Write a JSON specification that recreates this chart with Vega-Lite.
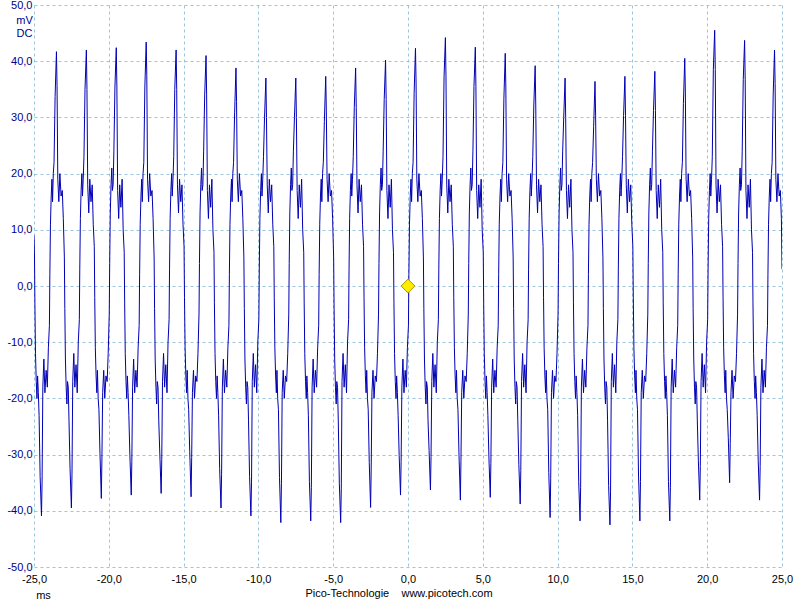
{
"$schema": "https://vega.github.io/schema/vega-lite/v6.json",
"width": 748, "height": 562,
"autosize": {"type": "none"},
"padding": {"left": 34, "top": 5, "right": 18, "bottom": 33},
"background": "white",
"config": {"view": {"stroke": null}, "font": "Liberation Sans"},
"title": {"text": "Pico-Technologie\u00a0\u00a0\u00a0\u00a0www.picotech.com", "orient": "bottom", "anchor": "middle", "frame": "group", "fontSize": 11, "fontWeight": "normal", "color": "black", "font": "Liberation Sans", "offset": 0, "dx": -9, "dy": -12},
"layer": [
{
"data": {"values": [
{"ms":-25,"mV":9},
{"ms":-24.97,"mV":6},{"ms":-24.94,"mV":-3},{"ms":-24.9,"mV":-12},{"ms":-24.85,"mV":-17},{"ms":-24.8,"mV":-20},{"ms":-24.76,"mV":-16},{"ms":-24.71,"mV":-19},{"ms":-24.66,"mV":-23},{"ms":-24.59,"mV":-33.9},{"ms":-24.5,"mV":-40.9},{"ms":-24.46,"mV":-34.9},{"ms":-24.41,"mV":-18},{"ms":-24.34,"mV":-13},{"ms":-24.27,"mV":-19},{"ms":-24.19,"mV":-15},{"ms":-24.11,"mV":-18},{"ms":-24.04,"mV":-11},
{"ms":-23.97,"mV":-7},{"ms":-23.94,"mV":2},{"ms":-23.9,"mV":11},{"ms":-23.85,"mV":16},{"ms":-23.8,"mV":19},{"ms":-23.76,"mV":15},{"ms":-23.71,"mV":20},{"ms":-23.66,"mV":22},{"ms":-23.59,"mV":33.7},{"ms":-23.5,"mV":41.7},{"ms":-23.46,"mV":35.7},{"ms":-23.41,"mV":19},{"ms":-23.34,"mV":15},{"ms":-23.27,"mV":20},{"ms":-23.19,"mV":16},{"ms":-23.11,"mV":17},{"ms":-23.04,"mV":12},
{"ms":-22.97,"mV":5},{"ms":-22.94,"mV":-4},{"ms":-22.9,"mV":-13},{"ms":-22.85,"mV":-18},{"ms":-22.8,"mV":-21},{"ms":-22.76,"mV":-17},{"ms":-22.71,"mV":-18},{"ms":-22.66,"mV":-24},{"ms":-22.59,"mV":-32.5},{"ms":-22.5,"mV":-39.5},{"ms":-22.46,"mV":-33.5},{"ms":-22.41,"mV":-17},{"ms":-22.34,"mV":-12},{"ms":-22.27,"mV":-18},{"ms":-22.19,"mV":-14},{"ms":-22.11,"mV":-19},{"ms":-22.04,"mV":-10},
{"ms":-21.97,"mV":-6},{"ms":-21.94,"mV":3},{"ms":-21.9,"mV":12},{"ms":-21.85,"mV":17},{"ms":-21.8,"mV":20},{"ms":-21.76,"mV":16},{"ms":-21.71,"mV":19},{"ms":-21.66,"mV":23},{"ms":-21.59,"mV":35},{"ms":-21.5,"mV":42},{"ms":-21.46,"mV":35},{"ms":-21.41,"mV":18},{"ms":-21.34,"mV":13},{"ms":-21.27,"mV":19},{"ms":-21.19,"mV":15},{"ms":-21.11,"mV":18},{"ms":-21.04,"mV":11},
{"ms":-20.97,"mV":7},{"ms":-20.94,"mV":-2},{"ms":-20.9,"mV":-11},{"ms":-20.85,"mV":-16},{"ms":-20.8,"mV":-19},{"ms":-20.76,"mV":-15},{"ms":-20.71,"mV":-20},{"ms":-20.66,"mV":-22},{"ms":-20.59,"mV":-29.8},{"ms":-20.5,"mV":-37.8},{"ms":-20.46,"mV":-30.8},{"ms":-20.41,"mV":-19},{"ms":-20.34,"mV":-15},{"ms":-20.27,"mV":-20},{"ms":-20.19,"mV":-16},{"ms":-20.11,"mV":-17},{"ms":-20.04,"mV":-12},
{"ms":-19.97,"mV":-5},{"ms":-19.94,"mV":4},{"ms":-19.9,"mV":13},{"ms":-19.85,"mV":18},{"ms":-19.8,"mV":21},{"ms":-19.76,"mV":17},{"ms":-19.71,"mV":18},{"ms":-19.66,"mV":24},{"ms":-19.59,"mV":35.4},{"ms":-19.5,"mV":42.4},{"ms":-19.46,"mV":35.4},{"ms":-19.41,"mV":17},{"ms":-19.34,"mV":12},{"ms":-19.27,"mV":18},{"ms":-19.19,"mV":14},{"ms":-19.11,"mV":19},{"ms":-19.04,"mV":10},
{"ms":-18.97,"mV":6},{"ms":-18.94,"mV":-3},{"ms":-18.9,"mV":-12},{"ms":-18.85,"mV":-17},{"ms":-18.8,"mV":-20},{"ms":-18.76,"mV":-16},{"ms":-18.71,"mV":-19},{"ms":-18.66,"mV":-23},{"ms":-18.59,"mV":-30.2},{"ms":-18.5,"mV":-37.2},{"ms":-18.46,"mV":-31.2},{"ms":-18.41,"mV":-18},{"ms":-18.34,"mV":-13},{"ms":-18.27,"mV":-19},{"ms":-18.19,"mV":-15},{"ms":-18.11,"mV":-18},{"ms":-18.04,"mV":-11},
{"ms":-17.97,"mV":-7},{"ms":-17.94,"mV":2},{"ms":-17.9,"mV":11},{"ms":-17.85,"mV":16},{"ms":-17.8,"mV":19},{"ms":-17.76,"mV":15},{"ms":-17.71,"mV":20},{"ms":-17.66,"mV":22},{"ms":-17.59,"mV":35.4},{"ms":-17.5,"mV":43.4},{"ms":-17.46,"mV":37.4},{"ms":-17.41,"mV":19},{"ms":-17.34,"mV":15},{"ms":-17.27,"mV":20},{"ms":-17.19,"mV":16},{"ms":-17.11,"mV":17},{"ms":-17.04,"mV":12},
{"ms":-16.97,"mV":5},{"ms":-16.94,"mV":-4},{"ms":-16.9,"mV":-13},{"ms":-16.85,"mV":-18},{"ms":-16.8,"mV":-21},{"ms":-16.76,"mV":-17},{"ms":-16.71,"mV":-18},{"ms":-16.66,"mV":-24},{"ms":-16.59,"mV":-29.9},{"ms":-16.5,"mV":-36.9},{"ms":-16.46,"mV":-30.9},{"ms":-16.41,"mV":-17},{"ms":-16.34,"mV":-12},{"ms":-16.27,"mV":-18},{"ms":-16.19,"mV":-14},{"ms":-16.11,"mV":-19},{"ms":-16.04,"mV":-10},
{"ms":-15.97,"mV":-6},{"ms":-15.94,"mV":3},{"ms":-15.9,"mV":12},{"ms":-15.85,"mV":17},{"ms":-15.8,"mV":20},{"ms":-15.76,"mV":16},{"ms":-15.71,"mV":19},{"ms":-15.66,"mV":23},{"ms":-15.59,"mV":35},{"ms":-15.5,"mV":42},{"ms":-15.46,"mV":35},{"ms":-15.41,"mV":18},{"ms":-15.34,"mV":13},{"ms":-15.27,"mV":19},{"ms":-15.19,"mV":15},{"ms":-15.11,"mV":18},{"ms":-15.04,"mV":11},
{"ms":-14.97,"mV":7},{"ms":-14.94,"mV":-2},{"ms":-14.9,"mV":-11},{"ms":-14.85,"mV":-16},{"ms":-14.8,"mV":-19},{"ms":-14.76,"mV":-15},{"ms":-14.71,"mV":-20},{"ms":-14.66,"mV":-22},{"ms":-14.59,"mV":-29.5},{"ms":-14.5,"mV":-37.5},{"ms":-14.46,"mV":-30.5},{"ms":-14.41,"mV":-19},{"ms":-14.34,"mV":-15},{"ms":-14.27,"mV":-20},{"ms":-14.19,"mV":-16},{"ms":-14.11,"mV":-17},{"ms":-14.04,"mV":-12},
{"ms":-13.97,"mV":-5},{"ms":-13.94,"mV":4},{"ms":-13.9,"mV":13},{"ms":-13.85,"mV":18},{"ms":-13.8,"mV":21},{"ms":-13.76,"mV":17},{"ms":-13.71,"mV":18},{"ms":-13.66,"mV":24},{"ms":-13.59,"mV":34},{"ms":-13.5,"mV":41},{"ms":-13.46,"mV":34},{"ms":-13.41,"mV":17},{"ms":-13.34,"mV":12},{"ms":-13.27,"mV":18},{"ms":-13.19,"mV":14},{"ms":-13.11,"mV":19},{"ms":-13.04,"mV":10},
{"ms":-12.97,"mV":6},{"ms":-12.94,"mV":-3},{"ms":-12.9,"mV":-12},{"ms":-12.85,"mV":-17},{"ms":-12.8,"mV":-20},{"ms":-12.76,"mV":-16},{"ms":-12.71,"mV":-19},{"ms":-12.66,"mV":-23},{"ms":-12.59,"mV":-32.5},{"ms":-12.5,"mV":-39.5},{"ms":-12.46,"mV":-33.5},{"ms":-12.41,"mV":-18},{"ms":-12.34,"mV":-13},{"ms":-12.27,"mV":-19},{"ms":-12.19,"mV":-15},{"ms":-12.11,"mV":-18},{"ms":-12.04,"mV":-11},
{"ms":-11.97,"mV":-7},{"ms":-11.94,"mV":2},{"ms":-11.9,"mV":11},{"ms":-11.85,"mV":16},{"ms":-11.8,"mV":19},{"ms":-11.76,"mV":15},{"ms":-11.71,"mV":20},{"ms":-11.66,"mV":22},{"ms":-11.59,"mV":30.8},{"ms":-11.5,"mV":38.8},{"ms":-11.46,"mV":32.8},{"ms":-11.41,"mV":19},{"ms":-11.34,"mV":15},{"ms":-11.27,"mV":20},{"ms":-11.19,"mV":16},{"ms":-11.11,"mV":17},{"ms":-11.04,"mV":12},
{"ms":-10.97,"mV":5},{"ms":-10.94,"mV":-4},{"ms":-10.9,"mV":-13},{"ms":-10.85,"mV":-18},{"ms":-10.8,"mV":-21},{"ms":-10.76,"mV":-17},{"ms":-10.71,"mV":-18},{"ms":-10.66,"mV":-24},{"ms":-10.59,"mV":-33.9},{"ms":-10.5,"mV":-40.9},{"ms":-10.46,"mV":-34.9},{"ms":-10.41,"mV":-17},{"ms":-10.34,"mV":-12},{"ms":-10.27,"mV":-18},{"ms":-10.19,"mV":-14},{"ms":-10.11,"mV":-19},{"ms":-10.04,"mV":-10},
{"ms":-9.97,"mV":-6},{"ms":-9.94,"mV":3},{"ms":-9.9,"mV":12},{"ms":-9.85,"mV":17},{"ms":-9.8,"mV":20},{"ms":-9.76,"mV":16},{"ms":-9.71,"mV":19},{"ms":-9.66,"mV":23},{"ms":-9.59,"mV":30},{"ms":-9.5,"mV":37},{"ms":-9.46,"mV":30},{"ms":-9.41,"mV":18},{"ms":-9.34,"mV":13},{"ms":-9.27,"mV":19},{"ms":-9.19,"mV":15},{"ms":-9.11,"mV":18},{"ms":-9.04,"mV":11},
{"ms":-8.97,"mV":7},{"ms":-8.94,"mV":-2},{"ms":-8.9,"mV":-11},{"ms":-8.85,"mV":-16},{"ms":-8.8,"mV":-19},{"ms":-8.76,"mV":-15},{"ms":-8.71,"mV":-20},{"ms":-8.66,"mV":-22},{"ms":-8.59,"mV":-34.1},{"ms":-8.5,"mV":-42.1},{"ms":-8.46,"mV":-35.1},{"ms":-8.41,"mV":-19},{"ms":-8.34,"mV":-15},{"ms":-8.27,"mV":-20},{"ms":-8.19,"mV":-16},{"ms":-8.11,"mV":-17},{"ms":-8.04,"mV":-12},
{"ms":-7.97,"mV":-5},{"ms":-7.94,"mV":4},{"ms":-7.9,"mV":13},{"ms":-7.85,"mV":18},{"ms":-7.8,"mV":21},{"ms":-7.76,"mV":17},{"ms":-7.71,"mV":18},{"ms":-7.66,"mV":24},{"ms":-7.59,"mV":30},{"ms":-7.5,"mV":37},{"ms":-7.46,"mV":30},{"ms":-7.41,"mV":17},{"ms":-7.34,"mV":12},{"ms":-7.27,"mV":18},{"ms":-7.19,"mV":14},{"ms":-7.11,"mV":19},{"ms":-7.04,"mV":10},
{"ms":-6.97,"mV":6},{"ms":-6.94,"mV":-3},{"ms":-6.9,"mV":-12},{"ms":-6.85,"mV":-17},{"ms":-6.8,"mV":-20},{"ms":-6.76,"mV":-16},{"ms":-6.71,"mV":-19},{"ms":-6.66,"mV":-23},{"ms":-6.59,"mV":-34.8},{"ms":-6.5,"mV":-41.8},{"ms":-6.46,"mV":-35.8},{"ms":-6.41,"mV":-18},{"ms":-6.34,"mV":-13},{"ms":-6.27,"mV":-19},{"ms":-6.19,"mV":-15},{"ms":-6.11,"mV":-18},{"ms":-6.04,"mV":-11},
{"ms":-5.97,"mV":-7},{"ms":-5.94,"mV":2},{"ms":-5.9,"mV":11},{"ms":-5.85,"mV":16},{"ms":-5.8,"mV":19},{"ms":-5.76,"mV":15},{"ms":-5.71,"mV":20},{"ms":-5.66,"mV":22},{"ms":-5.59,"mV":29.3},{"ms":-5.5,"mV":37.3},{"ms":-5.46,"mV":31.3},{"ms":-5.41,"mV":19},{"ms":-5.34,"mV":15},{"ms":-5.27,"mV":20},{"ms":-5.19,"mV":16},{"ms":-5.11,"mV":17},{"ms":-5.04,"mV":12},
{"ms":-4.97,"mV":5},{"ms":-4.94,"mV":-4},{"ms":-4.9,"mV":-13},{"ms":-4.85,"mV":-18},{"ms":-4.8,"mV":-21},{"ms":-4.76,"mV":-17},{"ms":-4.71,"mV":-18},{"ms":-4.66,"mV":-24},{"ms":-4.59,"mV":-35.1},{"ms":-4.5,"mV":-42.1},{"ms":-4.46,"mV":-36.1},{"ms":-4.41,"mV":-17},{"ms":-4.34,"mV":-12},{"ms":-4.27,"mV":-18},{"ms":-4.19,"mV":-14},{"ms":-4.11,"mV":-19},{"ms":-4.04,"mV":-10},
{"ms":-3.97,"mV":-6},{"ms":-3.94,"mV":3},{"ms":-3.9,"mV":12},{"ms":-3.85,"mV":17},{"ms":-3.8,"mV":20},{"ms":-3.76,"mV":16},{"ms":-3.71,"mV":19},{"ms":-3.66,"mV":23},{"ms":-3.59,"mV":31.8},{"ms":-3.5,"mV":38.8},{"ms":-3.46,"mV":31.8},{"ms":-3.41,"mV":18},{"ms":-3.34,"mV":13},{"ms":-3.27,"mV":19},{"ms":-3.19,"mV":15},{"ms":-3.11,"mV":18},{"ms":-3.04,"mV":11},
{"ms":-2.97,"mV":7},{"ms":-2.94,"mV":-2},{"ms":-2.9,"mV":-11},{"ms":-2.85,"mV":-16},{"ms":-2.8,"mV":-19},{"ms":-2.76,"mV":-15},{"ms":-2.71,"mV":-20},{"ms":-2.66,"mV":-22},{"ms":-2.59,"mV":-31.4},{"ms":-2.5,"mV":-39.4},{"ms":-2.46,"mV":-32.4},{"ms":-2.41,"mV":-19},{"ms":-2.34,"mV":-15},{"ms":-2.27,"mV":-20},{"ms":-2.19,"mV":-16},{"ms":-2.11,"mV":-17},{"ms":-2.04,"mV":-12},
{"ms":-1.97,"mV":-5},{"ms":-1.94,"mV":4},{"ms":-1.9,"mV":13},{"ms":-1.85,"mV":18},{"ms":-1.8,"mV":21},{"ms":-1.76,"mV":17},{"ms":-1.71,"mV":18},{"ms":-1.66,"mV":24},{"ms":-1.59,"mV":33.2},{"ms":-1.5,"mV":40.2},{"ms":-1.46,"mV":33.2},{"ms":-1.41,"mV":17},{"ms":-1.34,"mV":12},{"ms":-1.27,"mV":18},{"ms":-1.19,"mV":14},{"ms":-1.11,"mV":19},{"ms":-1.04,"mV":10},
{"ms":-0.97,"mV":6},{"ms":-0.94,"mV":-3},{"ms":-0.9,"mV":-12},{"ms":-0.85,"mV":-17},{"ms":-0.8,"mV":-20},{"ms":-0.76,"mV":-16},{"ms":-0.71,"mV":-19},{"ms":-0.66,"mV":-23},{"ms":-0.59,"mV":-30.2},{"ms":-0.5,"mV":-37.2},{"ms":-0.46,"mV":-31.2},{"ms":-0.41,"mV":-18},{"ms":-0.34,"mV":-13},{"ms":-0.27,"mV":-19},{"ms":-0.19,"mV":-15},{"ms":-0.11,"mV":-18},{"ms":-0.04,"mV":-11},
{"ms":0.03,"mV":-7},{"ms":0.06,"mV":2},{"ms":0.1,"mV":11},{"ms":0.15,"mV":16},{"ms":0.2,"mV":19},{"ms":0.24,"mV":15},{"ms":0.29,"mV":20},{"ms":0.34,"mV":22},{"ms":0.41,"mV":34.3},{"ms":0.5,"mV":42.3},{"ms":0.54,"mV":36.3},{"ms":0.59,"mV":19},{"ms":0.66,"mV":15},{"ms":0.73,"mV":20},{"ms":0.81,"mV":16},{"ms":0.89,"mV":17},{"ms":0.96,"mV":12},
{"ms":1.03,"mV":5},{"ms":1.06,"mV":-4},{"ms":1.1,"mV":-13},{"ms":1.15,"mV":-18},{"ms":1.2,"mV":-21},{"ms":1.24,"mV":-17},{"ms":1.29,"mV":-18},{"ms":1.34,"mV":-24},{"ms":1.41,"mV":-29.3},{"ms":1.5,"mV":-36.3},{"ms":1.54,"mV":-30.3},{"ms":1.59,"mV":-17},{"ms":1.66,"mV":-12},{"ms":1.73,"mV":-18},{"ms":1.81,"mV":-14},{"ms":1.89,"mV":-19},{"ms":1.96,"mV":-10},
{"ms":2.03,"mV":-6},{"ms":2.06,"mV":3},{"ms":2.1,"mV":12},{"ms":2.15,"mV":17},{"ms":2.2,"mV":20},{"ms":2.24,"mV":16},{"ms":2.29,"mV":19},{"ms":2.34,"mV":23},{"ms":2.41,"mV":37.2},{"ms":2.5,"mV":44.2},{"ms":2.54,"mV":37.2},{"ms":2.59,"mV":18},{"ms":2.66,"mV":13},{"ms":2.73,"mV":19},{"ms":2.81,"mV":15},{"ms":2.89,"mV":18},{"ms":2.96,"mV":11},
{"ms":3.03,"mV":7},{"ms":3.06,"mV":-2},{"ms":3.1,"mV":-11},{"ms":3.15,"mV":-16},{"ms":3.2,"mV":-19},{"ms":3.24,"mV":-15},{"ms":3.29,"mV":-20},{"ms":3.34,"mV":-22},{"ms":3.41,"mV":-30.1},{"ms":3.5,"mV":-38.1},{"ms":3.54,"mV":-31.1},{"ms":3.59,"mV":-19},{"ms":3.66,"mV":-15},{"ms":3.73,"mV":-20},{"ms":3.81,"mV":-16},{"ms":3.89,"mV":-17},{"ms":3.96,"mV":-12},
{"ms":4.03,"mV":-5},{"ms":4.06,"mV":4},{"ms":4.1,"mV":13},{"ms":4.15,"mV":18},{"ms":4.2,"mV":21},{"ms":4.24,"mV":17},{"ms":4.29,"mV":18},{"ms":4.34,"mV":24},{"ms":4.41,"mV":35.5},{"ms":4.5,"mV":42.5},{"ms":4.54,"mV":35.5},{"ms":4.59,"mV":17},{"ms":4.66,"mV":12},{"ms":4.73,"mV":18},{"ms":4.81,"mV":14},{"ms":4.89,"mV":19},{"ms":4.96,"mV":10},
{"ms":5.03,"mV":6},{"ms":5.06,"mV":-3},{"ms":5.1,"mV":-12},{"ms":5.15,"mV":-17},{"ms":5.2,"mV":-20},{"ms":5.24,"mV":-16},{"ms":5.29,"mV":-19},{"ms":5.34,"mV":-23},{"ms":5.41,"mV":-30.6},{"ms":5.5,"mV":-37.6},{"ms":5.54,"mV":-31.6},{"ms":5.59,"mV":-18},{"ms":5.66,"mV":-13},{"ms":5.73,"mV":-19},{"ms":5.81,"mV":-15},{"ms":5.89,"mV":-18},{"ms":5.96,"mV":-11},
{"ms":6.03,"mV":-7},{"ms":6.06,"mV":2},{"ms":6.1,"mV":11},{"ms":6.15,"mV":16},{"ms":6.2,"mV":19},{"ms":6.24,"mV":15},{"ms":6.29,"mV":20},{"ms":6.34,"mV":22},{"ms":6.41,"mV":33.4},{"ms":6.5,"mV":41.4},{"ms":6.54,"mV":35.4},{"ms":6.59,"mV":19},{"ms":6.66,"mV":15},{"ms":6.73,"mV":20},{"ms":6.81,"mV":16},{"ms":6.89,"mV":17},{"ms":6.96,"mV":12},
{"ms":7.03,"mV":5},{"ms":7.06,"mV":-4},{"ms":7.1,"mV":-13},{"ms":7.15,"mV":-18},{"ms":7.2,"mV":-21},{"ms":7.24,"mV":-17},{"ms":7.29,"mV":-18},{"ms":7.34,"mV":-24},{"ms":7.41,"mV":-31.8},{"ms":7.5,"mV":-38.8},{"ms":7.54,"mV":-32.8},{"ms":7.59,"mV":-17},{"ms":7.66,"mV":-12},{"ms":7.73,"mV":-18},{"ms":7.81,"mV":-14},{"ms":7.89,"mV":-19},{"ms":7.96,"mV":-10},
{"ms":8.03,"mV":-6},{"ms":8.06,"mV":3},{"ms":8.1,"mV":12},{"ms":8.15,"mV":17},{"ms":8.2,"mV":20},{"ms":8.24,"mV":16},{"ms":8.29,"mV":19},{"ms":8.34,"mV":23},{"ms":8.41,"mV":32.2},{"ms":8.5,"mV":39.2},{"ms":8.54,"mV":32.2},{"ms":8.59,"mV":18},{"ms":8.66,"mV":13},{"ms":8.73,"mV":19},{"ms":8.81,"mV":15},{"ms":8.89,"mV":18},{"ms":8.96,"mV":11},
{"ms":9.03,"mV":7},{"ms":9.06,"mV":-2},{"ms":9.1,"mV":-11},{"ms":9.15,"mV":-16},{"ms":9.2,"mV":-19},{"ms":9.24,"mV":-15},{"ms":9.29,"mV":-20},{"ms":9.34,"mV":-22},{"ms":9.41,"mV":-33.2},{"ms":9.5,"mV":-41.2},{"ms":9.54,"mV":-34.2},{"ms":9.59,"mV":-19},{"ms":9.66,"mV":-15},{"ms":9.73,"mV":-20},{"ms":9.81,"mV":-16},{"ms":9.89,"mV":-17},{"ms":9.96,"mV":-12},
{"ms":10.03,"mV":-5},{"ms":10.06,"mV":4},{"ms":10.1,"mV":13},{"ms":10.15,"mV":18},{"ms":10.2,"mV":21},{"ms":10.24,"mV":17},{"ms":10.29,"mV":18},{"ms":10.34,"mV":24},{"ms":10.41,"mV":30},{"ms":10.5,"mV":37},{"ms":10.54,"mV":30},{"ms":10.59,"mV":17},{"ms":10.66,"mV":12},{"ms":10.73,"mV":18},{"ms":10.81,"mV":14},{"ms":10.89,"mV":19},{"ms":10.96,"mV":10},
{"ms":11.03,"mV":6},{"ms":11.06,"mV":-3},{"ms":11.1,"mV":-12},{"ms":11.15,"mV":-17},{"ms":11.2,"mV":-20},{"ms":11.24,"mV":-16},{"ms":11.29,"mV":-19},{"ms":11.34,"mV":-23},{"ms":11.41,"mV":-34.8},{"ms":11.5,"mV":-41.8},{"ms":11.54,"mV":-35.8},{"ms":11.59,"mV":-18},{"ms":11.66,"mV":-13},{"ms":11.73,"mV":-19},{"ms":11.81,"mV":-15},{"ms":11.89,"mV":-18},{"ms":11.96,"mV":-11},
{"ms":12.03,"mV":-7},{"ms":12.06,"mV":2},{"ms":12.1,"mV":11},{"ms":12.15,"mV":16},{"ms":12.2,"mV":19},{"ms":12.24,"mV":15},{"ms":12.29,"mV":20},{"ms":12.34,"mV":22},{"ms":12.41,"mV":28.4},{"ms":12.5,"mV":36.4},{"ms":12.54,"mV":30.4},{"ms":12.59,"mV":19},{"ms":12.66,"mV":15},{"ms":12.73,"mV":20},{"ms":12.81,"mV":16},{"ms":12.89,"mV":17},{"ms":12.96,"mV":12},
{"ms":13.03,"mV":5},{"ms":13.06,"mV":-4},{"ms":13.1,"mV":-13},{"ms":13.15,"mV":-18},{"ms":13.2,"mV":-21},{"ms":13.24,"mV":-17},{"ms":13.29,"mV":-18},{"ms":13.34,"mV":-24},{"ms":13.41,"mV":-35.5},{"ms":13.5,"mV":-42.5},{"ms":13.54,"mV":-36.5},{"ms":13.59,"mV":-17},{"ms":13.66,"mV":-12},{"ms":13.73,"mV":-18},{"ms":13.81,"mV":-14},{"ms":13.89,"mV":-19},{"ms":13.96,"mV":-10},
{"ms":14.03,"mV":-6},{"ms":14.06,"mV":3},{"ms":14.1,"mV":12},{"ms":14.15,"mV":17},{"ms":14.2,"mV":20},{"ms":14.24,"mV":16},{"ms":14.29,"mV":19},{"ms":14.34,"mV":23},{"ms":14.41,"mV":30.3},{"ms":14.5,"mV":37.3},{"ms":14.54,"mV":30.3},{"ms":14.59,"mV":18},{"ms":14.66,"mV":13},{"ms":14.73,"mV":19},{"ms":14.81,"mV":15},{"ms":14.89,"mV":18},{"ms":14.96,"mV":11},
{"ms":15.03,"mV":7},{"ms":15.06,"mV":-2},{"ms":15.1,"mV":-11},{"ms":15.15,"mV":-16},{"ms":15.2,"mV":-19},{"ms":15.24,"mV":-15},{"ms":15.29,"mV":-20},{"ms":15.34,"mV":-22},{"ms":15.41,"mV":-33.8},{"ms":15.5,"mV":-41.8},{"ms":15.54,"mV":-34.8},{"ms":15.59,"mV":-19},{"ms":15.66,"mV":-15},{"ms":15.73,"mV":-20},{"ms":15.81,"mV":-16},{"ms":15.89,"mV":-17},{"ms":15.96,"mV":-12},
{"ms":16.03,"mV":-5},{"ms":16.06,"mV":4},{"ms":16.1,"mV":13},{"ms":16.15,"mV":18},{"ms":16.2,"mV":21},{"ms":16.24,"mV":17},{"ms":16.29,"mV":18},{"ms":16.34,"mV":24},{"ms":16.41,"mV":31.2},{"ms":16.5,"mV":38.2},{"ms":16.54,"mV":31.2},{"ms":16.59,"mV":17},{"ms":16.66,"mV":12},{"ms":16.73,"mV":18},{"ms":16.81,"mV":14},{"ms":16.89,"mV":19},{"ms":16.96,"mV":10},
{"ms":17.03,"mV":6},{"ms":17.06,"mV":-3},{"ms":17.1,"mV":-12},{"ms":17.15,"mV":-17},{"ms":17.2,"mV":-20},{"ms":17.24,"mV":-16},{"ms":17.29,"mV":-19},{"ms":17.34,"mV":-23},{"ms":17.41,"mV":-34.8},{"ms":17.5,"mV":-41.8},{"ms":17.54,"mV":-35.8},{"ms":17.59,"mV":-18},{"ms":17.66,"mV":-13},{"ms":17.73,"mV":-19},{"ms":17.81,"mV":-15},{"ms":17.89,"mV":-18},{"ms":17.96,"mV":-11},
{"ms":18.03,"mV":-7},{"ms":18.06,"mV":2},{"ms":18.1,"mV":11},{"ms":18.15,"mV":16},{"ms":18.2,"mV":19},{"ms":18.24,"mV":15},{"ms":18.29,"mV":20},{"ms":18.34,"mV":22},{"ms":18.41,"mV":32.5},{"ms":18.5,"mV":40.5},{"ms":18.54,"mV":34.5},{"ms":18.59,"mV":19},{"ms":18.66,"mV":15},{"ms":18.73,"mV":20},{"ms":18.81,"mV":16},{"ms":18.89,"mV":17},{"ms":18.96,"mV":12},
{"ms":19.03,"mV":5},{"ms":19.06,"mV":-4},{"ms":19.1,"mV":-13},{"ms":19.15,"mV":-18},{"ms":19.2,"mV":-21},{"ms":19.24,"mV":-17},{"ms":19.29,"mV":-18},{"ms":19.34,"mV":-24},{"ms":19.41,"mV":-31.1},{"ms":19.5,"mV":-38.1},{"ms":19.54,"mV":-32.1},{"ms":19.59,"mV":-17},{"ms":19.66,"mV":-12},{"ms":19.73,"mV":-18},{"ms":19.81,"mV":-14},{"ms":19.89,"mV":-19},{"ms":19.96,"mV":-10},
{"ms":20.03,"mV":-6},{"ms":20.06,"mV":3},{"ms":20.1,"mV":12},{"ms":20.15,"mV":17},{"ms":20.2,"mV":20},{"ms":20.24,"mV":16},{"ms":20.29,"mV":19},{"ms":20.34,"mV":23},{"ms":20.41,"mV":38.5},{"ms":20.5,"mV":45.5},{"ms":20.54,"mV":38.5},{"ms":20.59,"mV":18},{"ms":20.66,"mV":13},{"ms":20.73,"mV":19},{"ms":20.81,"mV":15},{"ms":20.89,"mV":18},{"ms":20.96,"mV":11},
{"ms":21.03,"mV":7},{"ms":21.06,"mV":-2},{"ms":21.1,"mV":-11},{"ms":21.15,"mV":-16},{"ms":21.2,"mV":-19},{"ms":21.24,"mV":-15},{"ms":21.29,"mV":-20},{"ms":21.34,"mV":-22},{"ms":21.41,"mV":-27},{"ms":21.5,"mV":-35},{"ms":21.54,"mV":-28},{"ms":21.59,"mV":-19},{"ms":21.66,"mV":-15},{"ms":21.73,"mV":-20},{"ms":21.81,"mV":-16},{"ms":21.89,"mV":-17},{"ms":21.96,"mV":-12},
{"ms":22.03,"mV":-5},{"ms":22.06,"mV":4},{"ms":22.1,"mV":13},{"ms":22.15,"mV":18},{"ms":22.2,"mV":21},{"ms":22.24,"mV":17},{"ms":22.29,"mV":18},{"ms":22.34,"mV":24},{"ms":22.41,"mV":36.7},{"ms":22.5,"mV":43.7},{"ms":22.54,"mV":36.7},{"ms":22.59,"mV":17},{"ms":22.66,"mV":12},{"ms":22.73,"mV":18},{"ms":22.81,"mV":14},{"ms":22.89,"mV":19},{"ms":22.96,"mV":10},
{"ms":23.03,"mV":6},{"ms":23.06,"mV":-3},{"ms":23.1,"mV":-12},{"ms":23.15,"mV":-17},{"ms":23.2,"mV":-20},{"ms":23.24,"mV":-16},{"ms":23.29,"mV":-19},{"ms":23.34,"mV":-23},{"ms":23.41,"mV":-31.1},{"ms":23.5,"mV":-38.1},{"ms":23.54,"mV":-32.1},{"ms":23.59,"mV":-18},{"ms":23.66,"mV":-13},{"ms":23.73,"mV":-19},{"ms":23.81,"mV":-15},{"ms":23.89,"mV":-18},{"ms":23.96,"mV":-11},
{"ms":24.03,"mV":-7},{"ms":24.06,"mV":2},{"ms":24.1,"mV":11},{"ms":24.15,"mV":16},{"ms":24.2,"mV":19},{"ms":24.24,"mV":15},{"ms":24.29,"mV":20},{"ms":24.34,"mV":22},{"ms":24.41,"mV":34},{"ms":24.5,"mV":42},{"ms":24.54,"mV":36},{"ms":24.59,"mV":19},{"ms":24.66,"mV":15},{"ms":24.73,"mV":20},{"ms":24.81,"mV":16},{"ms":24.89,"mV":17},{"ms":24.96,"mV":12},
{"ms":25,"mV":3}
]},
"mark": {"type": "line", "color": "#0000b4", "strokeWidth": 1, "clip": true},
"encoding": {
"x": {"field": "ms", "type": "quantitative", "sort": null,
"scale": {"domain": [-25, 25], "nice": false, "zero": false},
"axis": {"values": [-25,-20,-15,-10,-5,0,5,10,15,20,25], "grid": true, "gridColor": "#9cc4dc", "gridDash": [3,3], "gridWidth": 1, "domain": false, "ticks": false, "labelPadding": 6, "labelFontSize": 11, "labelColor": "black", "labelFont": "Liberation Sans", "labelFlush": false, "labelOverlap": false, "labelExpr": "replace(replace(format(datum.value, '.1f'), '.', ','), '\u2212', '-')", "title": "ms", "titleFont": "Liberation Sans", "titleFontSize": 11, "titleFontWeight": "normal", "titleColor": "black", "titleX": 9, "titleY": 28, "titleAlign": "center", "titleBaseline": "middle"}},
"y": {"field": "mV", "type": "quantitative",
"scale": {"domain": [-50, 50], "nice": false, "zero": false},
"axis": {"values": [-50,-40,-30,-20,-10,0,10,20,30,40,50], "grid": true, "gridColor": "#9cc4dc", "gridDash": [3,3], "gridWidth": 1, "domain": false, "ticks": false, "labelPadding": 2, "labelFontSize": 11, "labelColor": "#00008b", "labelFont": "Liberation Sans", "labelFlush": false, "labelOverlap": false, "labelExpr": "replace(replace(format(datum.value, '.1f'), '.', ','), '\u2212', '-')", "title": ["mV", "DC"], "titleFont": "Liberation Sans", "titleFontSize": 11, "titleFontWeight": "normal", "titleColor": "#00008b", "titleAngle": 0, "titleX": -10, "titleY": 9, "titleAlign": "center", "titleBaseline": "top", "titleLineHeight": 13}}
}
},
{
"data": {"values": [{"ms": 0, "mV": 0}]},
"mark": {"type": "point", "shape": "diamond", "filled": true, "fill": "#ffee00", "stroke": "#a89800", "strokeWidth": 1, "size": 190, "opacity": 1},
"encoding": {
"x": {"field": "ms", "type": "quantitative"},
"y": {"field": "mV", "type": "quantitative"}
}
}
]
}
